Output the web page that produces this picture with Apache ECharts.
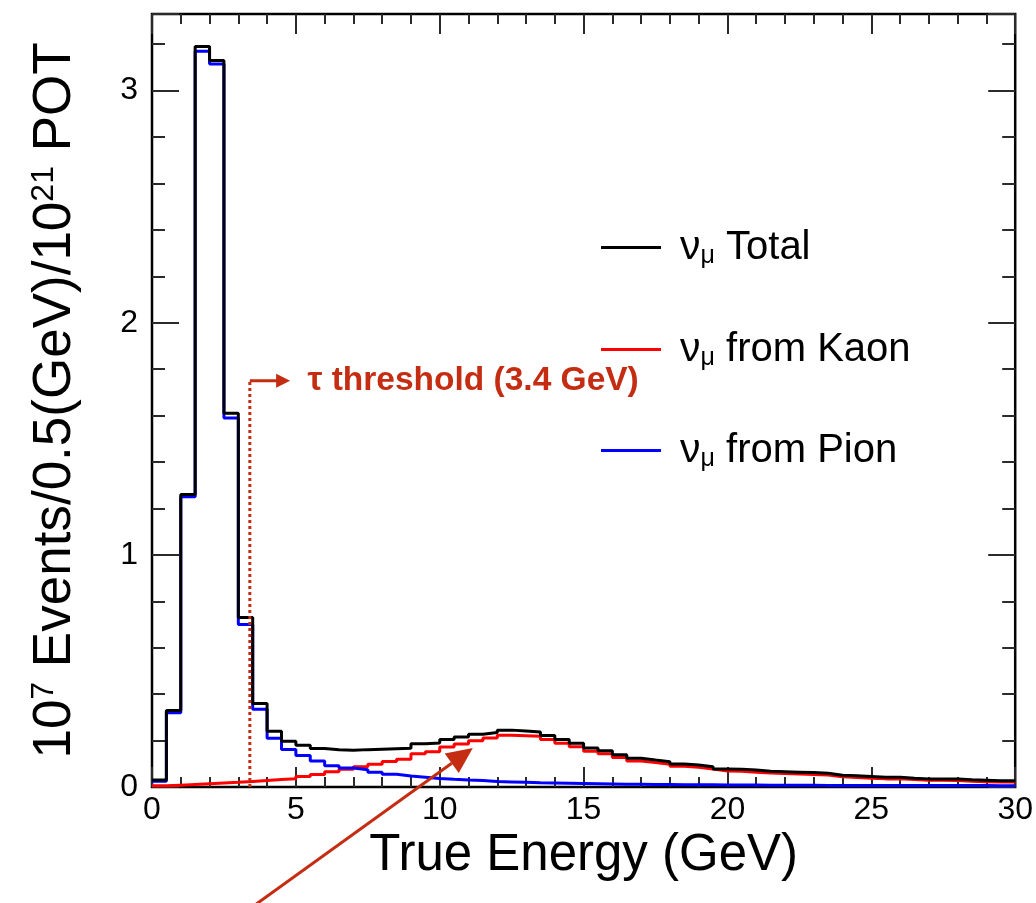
<!DOCTYPE html>
<html>
<head>
<meta charset="utf-8">
<script src="https://cdn.jsdelivr.net/npm/echarts@6/dist/echarts.min.js"></script>
<style>
html, body { margin: 0; padding: 0; background: #fff; }
#chart { width: 1036px; height: 903px; }
</style>
</head>
<body>
<div id="chart"></div>
<script>
// Muon-neutrino flux per 0.5 GeV bin, in 10^7 events / 10^21 POT
const BIN_WIDTH = 0.5;
const totalFlux = [
  0.030, 0.330, 1.260, 3.190, 3.130, 1.610, 0.730, 0.360, 0.240, 0.197,
  0.180, 0.166, 0.160, 0.158, 0.161, 0.163, 0.165, 0.167, 0.186, 0.190,
  0.205, 0.215, 0.227, 0.235, 0.245, 0.241, 0.237, 0.222, 0.205, 0.188,
  0.168, 0.156, 0.139, 0.124, 0.116, 0.109, 0.099, 0.095, 0.087, 0.078,
  0.077, 0.073, 0.068, 0.066, 0.064, 0.062, 0.059, 0.051, 0.048, 0.045,
  0.042, 0.042, 0.038, 0.035, 0.035, 0.034, 0.031, 0.029, 0.027, 0.027
];
const kaonFlux = [
  0.005, 0.008, 0.011, 0.014, 0.017, 0.020, 0.024, 0.028, 0.032, 0.036,
  0.045, 0.054, 0.066, 0.077, 0.087, 0.098, 0.110, 0.120, 0.143, 0.152,
  0.172, 0.185, 0.199, 0.211, 0.223, 0.221, 0.219, 0.205, 0.189, 0.173,
  0.154, 0.143, 0.127, 0.112, 0.105, 0.098, 0.089, 0.085, 0.077, 0.069,
  0.068, 0.064, 0.060, 0.058, 0.056, 0.054, 0.052, 0.044, 0.041, 0.038,
  0.035, 0.036, 0.032, 0.029, 0.029, 0.028, 0.025, 0.023, 0.022, 0.022
];
const pionFlux = [
  0.025, 0.320, 1.250, 3.170, 3.115, 1.590, 0.700, 0.335, 0.210, 0.162,
  0.136, 0.112, 0.092, 0.082, 0.074, 0.064, 0.055, 0.047, 0.042, 0.037,
  0.033, 0.030, 0.028, 0.024, 0.022, 0.020, 0.018, 0.017, 0.016, 0.015,
  0.014, 0.013, 0.012, 0.012, 0.011, 0.011, 0.010, 0.010, 0.010, 0.009,
  0.009, 0.009, 0.008, 0.008, 0.008, 0.008, 0.007, 0.007, 0.007, 0.007,
  0.007, 0.006, 0.006, 0.006, 0.006, 0.006, 0.006, 0.006, 0.005, 0.005
];
const seriesNames = ['Total', 'from Kaon', 'from Pion'];
const xRange = [0, 30];
const yRange = [0, 3.33];
const xMajorStep = 5, xMinorStep = 1;
const yMajorStep = 1, yMinorStep = 0.2;

// tau production threshold marker and the arrow pointing at the kaon peak
const tauThreshold = 3.4;      // GeV
const thresholdTop = 1.75;     // height of the dotted marker
const thresholdArrowEnd = 4.8; // GeV
const thresholdLabelX = 5.4;   // GeV
const peakArrowTail = [3.0, -0.56];
const peakArrowTip = [11.15, 0.168];

const FONT = '"Liberation Sans", Arial, Helvetica, sans-serif';
const ANNOT = '#c42d12';
const TICK = '#2a2a2a';

// left bin edges plus the closing edge, drawn as a step outline
function histogram(values) {
  const pts = values.map((v, i) => [i * BIN_WIDTH, v]);
  pts.push([values.length * BIN_WIDTH, values[values.length - 1]]);
  return pts;
}

function tickAxis(kind, position, step, len, extra) {
  const range = kind === 'x' ? xRange : yRange;
  return Object.assign({
    type: 'value', position: position, min: range[0], max: range[1], interval: step,
    axisLine: { show: false, onZero: false },
    axisTick: { show: true, inside: true, length: len, lineStyle: { color: TICK, width: 2 } },
    axisLabel: { show: false },
    splitLine: { show: false }
  }, extra || {});
}

const chart = echarts.init(document.getElementById('chart'), null, { renderer: 'canvas' });

const legendRich = {
  nu: { fontFamily: FONT, fontSize: 41, color: '#000', lineHeight: 46, padding: [0, 0, 0, 14] },
  sub: { fontFamily: FONT, fontSize: 25, color: '#000', lineHeight: 28, padding: [18, 0, 0, 0] },
  t: { fontFamily: FONT, fontSize: 40, color: '#000', lineHeight: 46 }
};
function legendFor(name, top) {
  return {
    data: [name], left: 596, top: top, orient: 'vertical',
    icon: 'rect', itemWidth: 60, itemHeight: 3,
    selectedMode: false,
    formatter: n => '{nu|ν}{sub|μ}{t| ' + n + '}',
    textStyle: { rich: legendRich }
  };
}

const option = {
  animation: false,
  backgroundColor: '#fff',
  grid: { left: 152, right: 18, top: 14, bottom: 116, show: true, borderColor: '#000', borderWidth: 2.5, backgroundColor: 'transparent' },
  legend: [legendFor(seriesNames[0], 221), legendFor(seriesNames[1], 323), legendFor(seriesNames[2], 424)],
  xAxis: [
    tickAxis('x', 'bottom', xMajorStep, 20, {
      axisLabel: { show: true, fontFamily: FONT, fontSize: 32, color: '#000', margin: 7 },
      name: 'True Energy (GeV)', nameLocation: 'middle', nameGap: 42,
      nameTextStyle: { fontFamily: FONT, fontSize: 51, color: '#000' }
    }),
    tickAxis('x', 'bottom', xMinorStep, 10),
    tickAxis('x', 'top', xMajorStep, 20),
    tickAxis('x', 'top', xMinorStep, 10)
  ],
  yAxis: [
    tickAxis('y', 'left', yMajorStep, 27, {
      axisLabel: {
        show: true, fontFamily: FONT, fontSize: 32, color: '#000', margin: 14,
        formatter: v => (Math.abs(v - Math.round(v)) < 1e-9 ? String(Math.round(v)) : '')
      },
      name: '{t|10}{sup|7}{t| Events/0.5(GeV)/10}{sup|21}{t| POT}',
      nameLocation: 'middle', nameGap: 68, nameRotate: 90,
      nameTextStyle: {
        rich: {
          t: { fontFamily: FONT, fontSize: 53, color: '#000', lineHeight: 58 },
          sup: { fontFamily: FONT, fontSize: 32, color: '#000', lineHeight: 34, padding: [0, 0, 22, 0] }
        }
      }
    }),
    tickAxis('y', 'left', yMinorStep, 13),
    tickAxis('y', 'right', yMajorStep, 27),
    tickAxis('y', 'right', yMinorStep, 13)
  ],
  series: [
    {
      name: seriesNames[1], type: 'line', step: 'end', data: histogram(kaonFlux),
      symbol: 'none', color: '#ff0000', lineStyle: { color: '#ff0000', width: 3 }, z: 3
    },
    {
      name: seriesNames[2], type: 'line', step: 'end', data: histogram(pionFlux),
      symbol: 'none', color: '#0000ff', lineStyle: { color: '#0000ff', width: 3 }, z: 4
    },
    {
      name: seriesNames[0], type: 'line', step: 'end', data: histogram(totalFlux),
      symbol: 'none', color: '#000000', lineStyle: { color: '#000000', width: 3 }, z: 5
    }
  ]
};
chart.setOption(option);

// annotations placed through the grid's own coordinate system
const px = p => chart.convertToPixel({ gridIndex: 0 }, p);

function arrowHead(tip, from, len, width) {
  const dx = tip[0] - from[0], dy = tip[1] - from[1];
  const d = Math.hypot(dx, dy), ux = dx / d, uy = dy / d;
  const bx = tip[0] - ux * len, by = tip[1] - uy * len;
  return [tip, [bx - uy * width / 2, by + ux * width / 2], [bx + uy * width / 2, by - ux * width / 2]];
}

const thrBase = px([tauThreshold, 0]);
const thrTop = px([tauThreshold, thresholdTop]);
const thrArrowEnd = px([thresholdArrowEnd, thresholdTop]);
const labelPos = px([thresholdLabelX, thresholdTop]);
const tail = px(peakArrowTail);
const tip = px(peakArrowTip);
const bigHead = arrowHead(tip, tail, 26, 24);
const smallHead = arrowHead(thrArrowEnd, thrTop, 14, 14);

chart.setOption({
  graphic: [
    {
      type: 'line', z: 50, silent: true,
      shape: { x1: thrBase[0], y1: thrBase[1], x2: thrTop[0], y2: thrTop[1] },
      style: { stroke: ANNOT, lineWidth: 3, lineDash: [3, 3] }
    },
    {
      type: 'line', z: 50, silent: true,
      shape: { x1: thrTop[0], y1: thrTop[1], x2: smallHead[0][0] - 8, y2: thrTop[1] },
      style: { stroke: ANNOT, lineWidth: 3 }
    },
    {
      type: 'polygon', z: 50, silent: true,
      shape: { points: smallHead },
      style: { fill: ANNOT }
    },
    {
      type: 'text', z: 50, silent: true,
      x: labelPos[0], y: labelPos[1],
      style: {
        text: 'τ threshold (3.4 GeV)', fill: ANNOT,
        font: 'bold 33.5px ' + FONT, align: 'left', verticalAlign: 'middle'
      }
    },
    {
      type: 'line', z: 50, silent: true,
      shape: {
        x1: tail[0], y1: tail[1],
        x2: (bigHead[1][0] + bigHead[2][0]) / 2, y2: (bigHead[1][1] + bigHead[2][1]) / 2
      },
      style: { stroke: ANNOT, lineWidth: 3 }
    },
    {
      type: 'polygon', z: 50, silent: true,
      shape: { points: bigHead },
      style: { fill: ANNOT }
    }
  ]
});
</script>
</body>
</html>
